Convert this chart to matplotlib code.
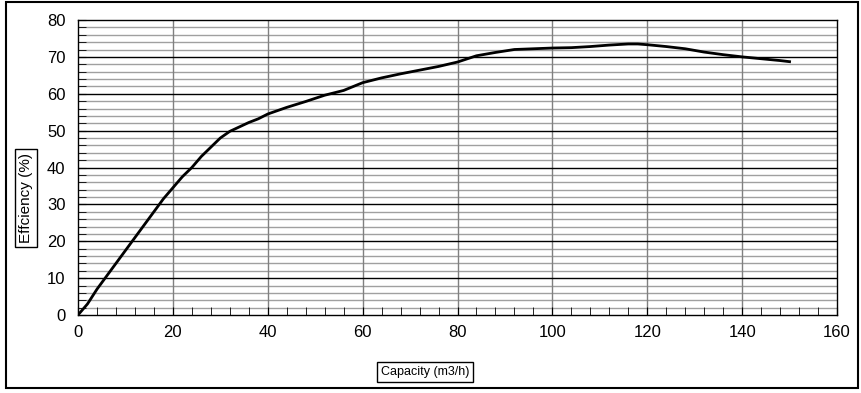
import matplotlib
matplotlib.use("Agg")
import matplotlib.pyplot as plt
from matplotlib.patches import Rectangle
import numpy as np

capacity = [0, 2, 4, 6, 8, 10, 12, 14, 16, 18, 20, 22, 24, 26, 28, 30, 32, 34, 36, 38, 40,
            44, 48, 52, 56, 60, 64, 68, 72, 76, 80, 84, 88, 92, 96, 100, 104, 108, 112, 116,
            118, 120, 124, 128, 132, 136, 140, 144, 148, 150]
efficiency = [0, 3, 7, 10.5, 14, 17.5, 21, 24.5, 28, 31.5, 34.5, 37.5, 40, 43, 45.5, 48, 49.8,
              51, 52.2, 53.2, 54.5, 56.3, 57.9, 59.6, 60.9, 63, 64.3, 65.4, 66.4, 67.4, 68.6,
              70.3, 71.2, 72, 72.2, 72.4, 72.5, 72.8, 73.2, 73.5, 73.5, 73.3, 72.8, 72.2, 71.3,
              70.6, 70.0, 69.5, 69.0, 68.7]
x_ticks = [0, 20, 40, 60, 80, 100, 120, 140, 160]
y_ticks = [0, 10, 20, 30, 40, 50, 60, 70, 80]

plt.rcParams['font.family'] = ['Liberation Sans', 'DejaVu Sans']

W, H = 862, 393
fig = plt.figure(figsize=(W / 100, H / 100), dpi=100)
ax = fig.add_axes([78 / W, 1 - 315 / H, (837 - 78) / W, (315 - 20) / H])

ax.set_xlim(0, 160)
ax.set_ylim(0, 80)

# minor gray horizontal lines every 2
for yv in np.arange(0, 81, 2):
    if yv % 10 != 0:
        ax.axhline(yv, color='#a0a0a0', lw=1, zorder=1)
# vertical gray lines every 20
for xv in x_ticks[1:-1]:
    ax.axvline(xv, color='#808080', lw=1, zorder=1.5)
# black major horizontal lines every 10
for yv in y_ticks[1:-1]:
    ax.axhline(yv, color='black', lw=1, zorder=2)

ax.plot(capacity, efficiency, color='black', lw=2, zorder=3)

ax.set_xticks(x_ticks)
ax.set_yticks(y_ticks)
ax.set_xticks(np.arange(0, 161, 4), minor=True)
ax.set_yticks(np.arange(0, 81, 2), minor=True)
ax.tick_params(axis='both', which='both', direction='in', colors='black', labelsize=12)
ax.tick_params(axis='x', which='major', length=6, pad=7, top=False)
ax.tick_params(axis='x', which='minor', length=6, top=False)
ax.tick_params(axis='y', which='major', length=6, pad=9, right=False)
ax.tick_params(axis='y', which='minor', length=6, right=False)
for s in ax.spines.values():
    s.set_color('black')
    s.set_linewidth(1)
    s.set_zorder(4)

# outer frame
fig.patches.append(Rectangle((6 / W, 1 - 388 / H), (858 - 6) / W, (388 - 2) / H,
                             transform=fig.transFigure, fill=False, edgecolor='black', lw=1.5))

fig.text(425 / W, 1 - 372 / H, 'Capacity (m3/h)', ha='center', va='center', fontsize=9,
         bbox=dict(boxstyle='square,pad=0.3', fc='white', ec='black', lw=1))
fig.text(26 / W, 1 - 198 / H, 'Effciency (%)', ha='center', va='center', fontsize=11,
         rotation=90, bbox=dict(boxstyle='square,pad=0.25', fc='white', ec='black', lw=1))

fig.savefig('out.png', dpi=100)
